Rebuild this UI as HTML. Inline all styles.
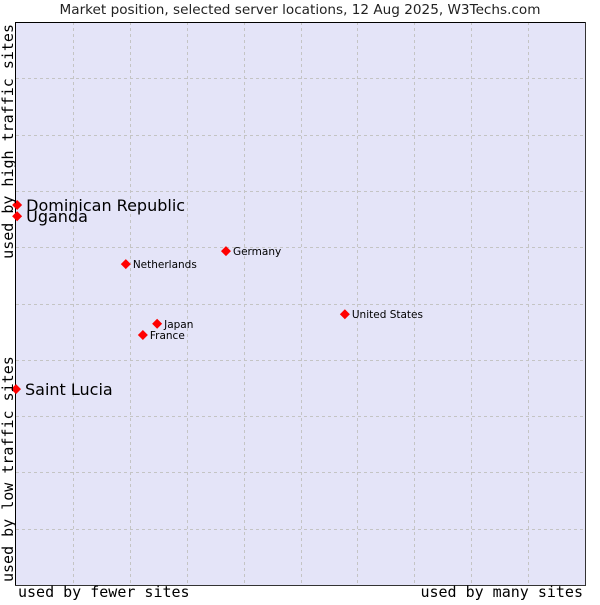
<!DOCTYPE html>
<html><head><meta charset="utf-8"><style>
body{margin:0;background:#fff;width:600px;height:600px;overflow:hidden}
svg text{font-family:"DejaVu Sans","Liberation Sans",sans-serif}
.mono{font-family:"DejaVu Sans Mono","Liberation Mono",monospace}
</style></head><body>
<svg id="chart" width="600" height="600">
<text x="300" y="14" text-anchor="middle" font-size="13.6" fill="#222">Market position, selected server locations, 12 Aug 2025, W3Techs.com</text>
<rect x="16" y="22" width="569" height="563" fill="#e4e4f8"/>
<g id="grid"></g>
<line x1="15.5" y1="22" x2="15.5" y2="585" stroke="#000"/>
<line x1="15" y1="22.5" x2="585" y2="22.5" stroke="#000"/>
<line x1="585.5" y1="22" x2="585.5" y2="586" stroke="#333"/>
<line x1="15" y1="585.5" x2="586" y2="585.5" stroke="#333"/>
<g id="points"></g>
<text x="18" y="597" class="mono" font-size="15" fill="#000">used by fewer sites</text>
<text x="583" y="597" text-anchor="end" class="mono" font-size="15" fill="#000">used by many sites</text>
<text transform="translate(13,582) rotate(-90)" class="mono" font-size="15" fill="#000">used by low traffic sites</text>
<text transform="translate(13,24) rotate(-90)" text-anchor="end" class="mono" font-size="15" fill="#000">used by high traffic sites</text>
</svg>
<script>
const countries=["Dominican Republic","Uganda","Saint Lucia","Netherlands","Germany","United States","Japan","France"];
const xValues=[0.2,0.2,0.0,19.3,36.9,57.8,24.8,22.3];
const yValues=[67.5,65.5,34.8,57.0,59.3,48.1,46.4,44.4];
const largeLabel=[true,true,true,false,false,false,false,false];
const L=16,T=22,W=569,H=563;
const sx=v=>L+v/100*W, sy=v=>T+H-v/100*H;
const NS="http://www.w3.org/2000/svg";
const grid=document.getElementById('grid');
for(let i=1;i<10;i++){
  const gx=document.createElementNS(NS,'line');
  const x=Math.round(sx(i*10))+0.5;
  gx.setAttribute('x1',x);gx.setAttribute('x2',x);gx.setAttribute('y1',T);gx.setAttribute('y2',T+H);
  gx.setAttribute('stroke','#c4c4c4');gx.setAttribute('stroke-dasharray','3,3');
  
  
  grid.appendChild(gx);
  const gy=document.createElementNS(NS,'line');
  const y=Math.round(sy(i*10))+0.5;
  gy.setAttribute('x1',L);gy.setAttribute('x2',L+W);gy.setAttribute('y1',y);gy.setAttribute('y2',y);
  gy.setAttribute('stroke','#c4c4c4');gy.setAttribute('stroke-dasharray','3,3');
  
  
  grid.appendChild(gy);
}
const pts=document.getElementById('points');
countries.forEach((c,i)=>{
  const x=sx(xValues[i]),y=sy(yValues[i]);
  const p=document.createElementNS(NS,'path');
  p.setAttribute('d',`M${x},${y-5}L${x+5},${y}L${x},${y+5}L${x-5},${y}Z`);
  p.setAttribute('fill','#f00');
  
  
  pts.appendChild(p);
  const t=document.createElementNS(NS,'text');
  const big=largeLabel[i];
  t.setAttribute('x',x+(big?9:7));
  t.setAttribute('y',y+(big?6:4));
  t.setAttribute('font-size',big?16:10.5);
  t.setAttribute('fill','#000');
  t.textContent=c;
  
  
  pts.appendChild(t);
});
</script>
</body></html>
